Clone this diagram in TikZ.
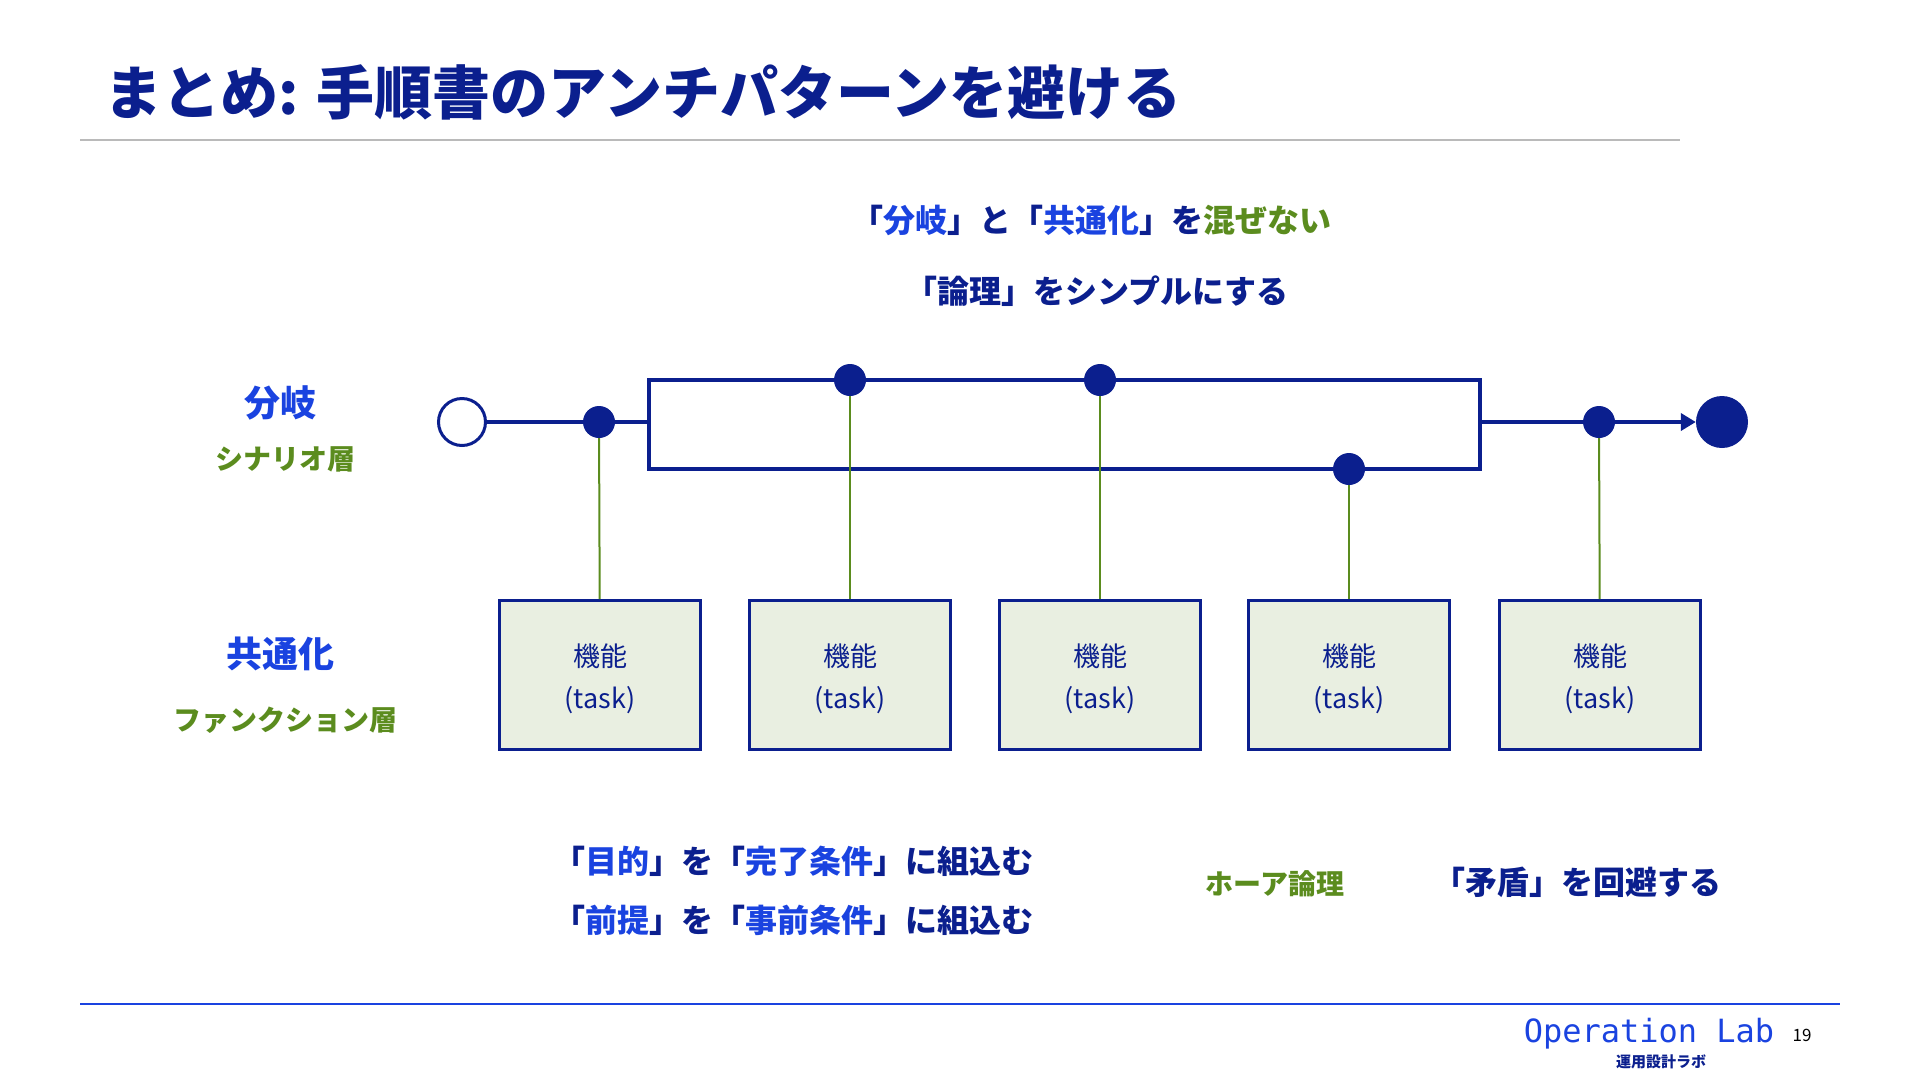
\documentclass[tikz,border=0pt]{standalone}
\usepackage{fontspec}
\setmainfont{Noto Sans CJK JP}
\newfontfamily\labmono{DejaVu Sans Mono}
\usetikzlibrary{arrows.meta}
\definecolor{navy}{HTML}{0B1F8E}
\definecolor{bblue}{HTML}{1A43E0}
\definecolor{leaf}{HTML}{5B8C1E}
\definecolor{taskfill}{HTML}{E9EFE1}
\tikzset{
  flow/.style={draw=navy, line width=4pt},
  dot/.style={circle, fill=navy, inner sep=0pt, minimum size=32pt},
  link/.style={draw=leaf, line width=2pt},
  taskbox/.style={draw=navy, line width=3pt, fill=taskfill, minimum width=201pt,
    minimum height=149pt, align=center, text=navy, font=\fontsize{27}{42}\selectfont},
  lbl/.style={text=navy, font=\bfseries\fontsize{32}{38}\selectfont},
  layer/.style={text=bblue, font=\bfseries\fontsize{36}{40}\selectfont},
  sublayer/.style={text=leaf, font=\bfseries\fontsize{28}{32}\selectfont},
}

\begin{document}
\begin{tikzpicture}[x=1pt,y=-1pt]
\useasboundingbox (0,0) rectangle (1920,1080);
% title
\node[anchor=west, text=navy, font=\bfseries\fontsize{58}{62}\selectfont] (title) at (101,92)
  {まとめ: 手順書のアンチパターンを避ける};
\draw[black!27, line width=1.5pt] (80,140) -- (1680,140);
\node[lbl] (rule1) at (1091,220)
  {「\textcolor{bblue}{分岐}」と「\textcolor{bblue}{共通化}」を\textcolor{leaf}{混ぜない}};
\node[lbl] (rule2) at (1097,291) {「論理」をシンプルにする};
% layers
\node[layer] (branch) at (280,403) {分岐};
\node[sublayer] (scenario) at (285,459) {シナリオ層};
\node[layer] (common) at (280,654) {共通化};
\node[sublayer] (funclayer) at (285,720) {ファンクション層};
% scenario flow
\node[circle, draw=navy, line width=3pt, fill=white, minimum size=47pt, inner sep=0pt] (start) at (462,422) {};
\node[dot] (d1) at (599,422) {};
\node[dot] (d2) at (850,380) {};
\node[dot] (d3) at (1100,380) {};
\node[dot] (d4) at (1349,469) {};
\node[dot] (d5) at (1599,422) {};
\node[circle, fill=navy, minimum size=52pt, inner sep=0pt] (goal) at (1722,422) {};
\coordinate (bl) at (649,422);
\coordinate (blt) at (649,380);
\coordinate (blb) at (649,469);
\coordinate (br) at (1480,422);
\coordinate (brt) at (1480,380);
\coordinate (brb) at (1480,469);
\draw[flow] (start) -- (d1) -- (bl);
\draw[flow, line cap=rect] (blb) -- (blt) -- (d2) -- (d3) -- (brt) -- (brb) -- (d4) -- (blb);
\draw[flow] (br) -- (d5);
\draw[flow, -{Triangle[length=15pt,width=17pt]}] (d5) -- (goal);
% function layer
\node[taskbox] (task1) at (600,675) {\rule{0pt}{30pt}機能\\(task)};
\node[taskbox] (task2) at (850,675) {\rule{0pt}{30pt}機能\\(task)};
\node[taskbox] (task3) at (1100,675) {\rule{0pt}{30pt}機能\\(task)};
\node[taskbox] (task4) at (1349,675) {\rule{0pt}{30pt}機能\\(task)};
\node[taskbox] (task5) at (1600,675) {\rule{0pt}{30pt}機能\\(task)};
\draw[link] (d1) -- (task1);
\draw[link] (d2) -- (task2);
\draw[link] (d3) -- (task3);
\draw[link] (d4) -- (task4);
\draw[link] (d5) -- (task5);
% notes
\node[lbl] (goalnote) at (793,861)
  {「\textcolor{bblue}{目的}」を「\textcolor{bblue}{完了条件}」に組込む};
\node[lbl] (prenote) at (793,920)
  {「\textcolor{bblue}{前提}」を「\textcolor{bblue}{事前条件}」に組込む};
\node[sublayer] (hoare) at (1275,884) {ホーア論理};
\node[lbl] (conflict) at (1577,882) {「矛盾」を回避する};
% footer
\draw[bblue, line width=2pt] (80,1004) -- (1840,1004);
\node[text=bblue, font=\labmono\fontsize{32}{36}\selectfont] (brand) at (1649,1034) {Operation Lab};
\node[font=\fontsize{17}{19}\selectfont] (page) at (1802,1035) {19};
\node[text=navy, font=\bfseries\fontsize{15}{17}\selectfont] (brandjp) at (1661,1062) {運用設計ラボ};
\end{tikzpicture}
\end{document}
